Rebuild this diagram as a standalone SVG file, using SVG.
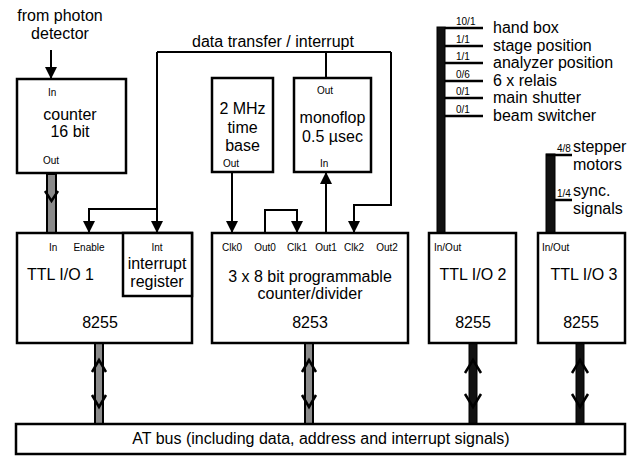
<svg xmlns="http://www.w3.org/2000/svg" width="636" height="456" viewBox="0 0 636 456">
  <defs>
    <marker id="ah" viewBox="0 0 10 10" refX="10" refY="5" markerWidth="6" markerHeight="6" orient="auto" markerUnits="strokeWidth">
      <path d="M0,0 L10,5 L0,10 z" fill="#000"/>
    </marker>
    <style>
      .box { fill: #fff; stroke: #000; stroke-width: 2.5; }
      .wire { fill: none; stroke: #000; stroke-width: 2; }
      .bar { fill: #8a8a8a; stroke: #000; stroke-width: 2; }
      .blk { fill: #111; stroke: #000; stroke-width: 1; }
      .chev { fill: none; stroke: #000; stroke-width: 2.5; stroke-linejoin: miter; }
      .tap { fill: none; stroke: #000; stroke-width: 2.5; }
      text { font-family: "Liberation Sans", Arial, sans-serif; fill: #000; }
      .big { font-size: 16px; }
      .sm { font-size: 10px; }
      .tiny { font-size: 10px; }
      .c { text-anchor: middle; }
    </style>
  </defs>

  <!-- signal wires and buses -->
  <g id="connectors">
    <!-- photon detector input -->
    <line class="wire" x1="51" y1="50" x2="51" y2="79" marker-end="url(#ah)"/>
    <!-- counter out to TTL I/O 1 in -->
    <rect class="bar" x="47" y="174" width="9" height="59"/>
    <polyline class="chev" points="45,191 51.5,201 58,191"/>
    <!-- data transfer / interrupt line -->
    <line class="wire" x1="326" y1="78" x2="326" y2="52"/>
    <line class="wire" x1="157" y1="52" x2="391" y2="52"/>
    <line class="wire" x1="157" y1="52" x2="157" y2="233" marker-end="url(#ah)"/>
    <polyline class="wire" points="391,52 391,205 354,205 354,233" marker-end="url(#ah)"/>
    <polyline class="wire" points="157,209 89,209 89,233" marker-end="url(#ah)"/>
    <!-- 2 MHz time base to Clk0 -->
    <line class="wire" x1="232" y1="172" x2="232" y2="233" marker-end="url(#ah)"/>
    <!-- Out0 to Clk1 -->
    <polyline class="wire" points="265,233 265,210 297,210 297,233" marker-end="url(#ah)"/>
    <!-- Out1 to monoflop In -->
    <line class="wire" x1="326" y1="233" x2="326" y2="172" marker-end="url(#ah)"/>

    <!-- TTL I/O 2 port lines -->
    <rect class="blk" x="437" y="27" width="8" height="206"/>
    <line class="tap" x1="445" y1="28" x2="483" y2="28"/>
    <line class="tap" x1="445" y1="46" x2="483" y2="46"/>
    <line class="tap" x1="445" y1="63" x2="483" y2="63"/>
    <line class="tap" x1="445" y1="81" x2="483" y2="81"/>
    <line class="tap" x1="445" y1="98" x2="483" y2="98"/>
    <line class="tap" x1="445" y1="116" x2="483" y2="116"/>
    <!-- TTL I/O 3 port lines -->
    <rect class="blk" x="546" y="154" width="9" height="79"/>
    <line class="tap" x1="546" y1="155" x2="572" y2="155"/>
    <line class="tap" x1="555" y1="200" x2="572" y2="200"/>

    <!-- bidirectional links to the AT bus -->
    <rect class="bar" x="95" y="343" width="8" height="81"/>
    <polyline class="chev" points="92,372 99,360 106,372"/>
    <polyline class="chev" points="92,395 99,407 106,395"/>
    <rect class="bar" x="305" y="343" width="8" height="81"/>
    <polyline class="chev" points="302,372 309,360 316,372"/>
    <polyline class="chev" points="302,395 309,407 316,395"/>
    <rect class="blk" x="469" y="343" width="8" height="81"/>
    <polyline class="chev" points="465,373 473,360 481,373"/>
    <polyline class="chev" points="465,394 473,407 481,394"/>
    <rect class="blk" x="576" y="343" width="8" height="81"/>
    <polyline class="chev" points="572,373 580,360 588,373"/>
    <polyline class="chev" points="572,394 580,407 588,394"/>
  </g>

  <!-- free labels -->
  <g id="labels">
    <text class="big c" x="60" y="21">from photon</text>
    <text class="big c" x="60" y="39">detector</text>
    <text class="big c" x="273" y="47">data transfer / interrupt</text>
  </g>

  <g id="counter">
    <rect class="box" x="17" y="79" width="109" height="94"/>
    <text class="sm" x="48" y="96">In</text>
    <text class="big c" x="70" y="120">counter</text>
    <text class="big c" x="70" y="137">16 bit</text>
    <text class="sm" x="43" y="164">Out</text>
  </g>

  <g id="timebase">
    <rect class="box" x="212" y="78" width="61" height="94"/>
    <text class="big c" x="242.5" y="114">2 MHz</text>
    <text class="big c" x="242.5" y="133">time</text>
    <text class="big c" x="242.5" y="151">base</text>
    <text class="sm" x="223" y="167">Out</text>
  </g>

  <g id="monoflop">
    <rect class="box" x="294" y="78" width="77" height="94"/>
    <text class="sm" x="317" y="94">Out</text>
    <text class="big c" x="332.5" y="123">monoflop</text>
    <text class="big c" x="332.5" y="142">0.5 µsec</text>
    <text class="sm" x="320" y="167">In</text>
  </g>

  <g id="ttl1">
    <rect class="box" x="17" y="233" width="175" height="110"/>
    <rect class="box" x="123" y="233" width="69" height="63"/>
    <text class="sm" x="49" y="251">In</text>
    <text class="sm c" x="89" y="251">Enable</text>
    <text class="sm c" x="157" y="251">Int</text>
    <text class="big c" x="157" y="269">interrupt</text>
    <text class="big c" x="157" y="287">register</text>
    <text class="big" x="27" y="280">TTL I/O 1</text>
    <text class="big c" x="100" y="328">8255</text>
  </g>

  <g id="ctc8253">
    <rect class="box" x="212" y="233" width="196" height="110"/>
    <text class="sm c" x="232" y="251">Clk0</text>
    <text class="sm c" x="265" y="251">Out0</text>
    <text class="sm c" x="297" y="251">Clk1</text>
    <text class="sm c" x="326" y="251">Out1</text>
    <text class="sm c" x="354" y="251">Clk2</text>
    <text class="sm c" x="387" y="251">Out2</text>
    <text class="big c" x="310" y="282">3 x 8 bit programmable</text>
    <text class="big c" x="310" y="299">counter/divider</text>
    <text class="big c" x="310" y="328">8253</text>
  </g>

  <g id="ttl2">
    <rect class="box" x="429" y="233" width="87" height="110"/>
    <text class="sm" x="434" y="251">In/Out</text>
    <text class="big c" x="473" y="280">TTL I/O 2</text>
    <text class="big c" x="473" y="328">8255</text>
    <text class="tiny" x="456" y="25">10/1</text>
    <text class="tiny" x="456" y="43">1/1</text>
    <text class="tiny" x="456" y="60">1/1</text>
    <text class="tiny" x="456" y="78">0/6</text>
    <text class="tiny" x="456" y="95">0/1</text>
    <text class="tiny" x="456" y="113">0/1</text>
    <text class="big" x="493" y="33">hand box</text>
    <text class="big" x="493" y="51">stage position</text>
    <text class="big" x="493" y="68">analyzer position</text>
    <text class="big" x="493" y="86">6 x relais</text>
    <text class="big" x="493" y="103">main shutter</text>
    <text class="big" x="493" y="121">beam switcher</text>
  </g>

  <g id="ttl3">
    <rect class="box" x="538" y="233" width="87" height="110"/>
    <text class="sm" x="542" y="251">In/Out</text>
    <text class="big c" x="584" y="280">TTL I/O 3</text>
    <text class="big c" x="581" y="328">8255</text>
    <text class="tiny" x="557" y="152">4/8</text>
    <text class="tiny" x="557" y="197">1/4</text>
    <text class="big" x="573" y="152">stepper</text>
    <text class="big" x="573" y="170">motors</text>
    <text class="big" x="573" y="196">sync.</text>
    <text class="big" x="573" y="214">signals</text>
  </g>

  <g id="atbus">
    <rect class="box" x="16" y="424" width="609" height="30"/>
    <text class="big c" x="321" y="444">AT bus (including data, address and interrupt signals)</text>
  </g>
</svg>
